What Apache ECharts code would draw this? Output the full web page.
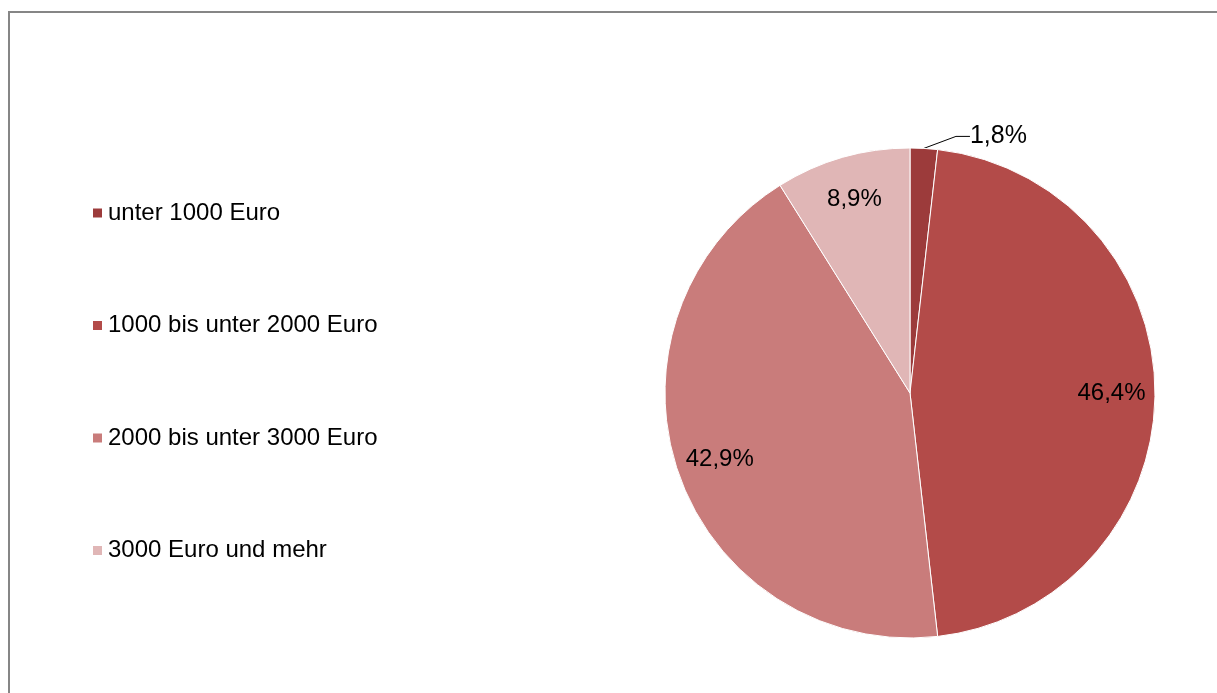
<!DOCTYPE html>
<html>
<head>
<meta charset="utf-8">
<script src="https://cdn.jsdelivr.net/npm/echarts@6/dist/echarts.min.js"></script>
<style>
  html, body { margin: 0; padding: 0; background: #fff; }
  #frame { position: absolute; left: 8px; top: 11px; right: 0; bottom: 0;
           border-left: 2px solid #868686; border-top: 2px solid #868686; }
  #main { position: absolute; left: 0; top: 0; width: 1217px; height: 693px; }
</style>
</head>
<body>
<div id="frame"></div>
<div id="main"></div>
<script>
// Einkommensklassen
var categories = ['unter 1000 Euro', '1000 bis unter 2000 Euro', '2000 bis unter 3000 Euro', '3000 Euro und mehr'];
var shares = [1.8, 46.4, 42.9, 8.9];
var colors = ['#9c3b3b', '#b34b49', '#c97c7b', '#e0b6b6'];

var chart = echarts.init(document.getElementById('main'));

var fmt = function (p) {
  return p.value.toFixed(1).replace('.', ',') + '%';
};

var pieData = categories.map(function (c, i) {
  var item = { name: c, value: shares[i], itemStyle: { color: colors[i] } };
  // nur das kleine Segment bekommt ein Label aussen
  if (i == 0) {
    item.label = { show: true };
    item.labelLine = { show: true };
  }
  return item;
});

var overlayData = categories.map(function (c, i) {
  return { name: c, value: shares[i], label: { show: i != 0 } };
});

var font = 'Arial, "Liberation Sans", sans-serif';

var option = {
  animation: false,
  legend: {
    orient: 'vertical',
    left: 86,
    top: 196,
    itemWidth: 11,
    itemHeight: 11,
    itemGap: 88.5,
    icon: 'rect',
    selectedMode: false,
    data: categories,
    textStyle: { fontFamily: font, fontSize: 24, color: '#000', padding: [0, 0, 0, 0] }
  },
  series: [{
    type: 'pie',
    center: [910, 393],
    radius: 245,
    startAngle: 90,
    clockwise: true,
    avoidLabelOverlap: false,
    silent: true,
    itemStyle: { borderColor: '#fff', borderWidth: 1 },
    label: {
      show: false,
      position: 'outside',
      formatter: fmt,
      fontFamily: font,
      fontSize: 25,
      color: '#000',
      distanceToLabelLine: 4
    },
    labelLine: {
      show: false,
      length: 2,
      length2: 14,
      lineStyle: { color: '#000', width: 1 }
    },
    // Label nach rechts oben schieben, Linie wird neu berechnet
    labelLayout: function (p) {
      var r = p.labelRect;
      return { x: r.x + 28, y: r.y - 10, align: 'left', verticalAlign: 'top' };
    },
    data: pieData
  }, {
    type: 'pie',
    center: [910, 393],
    radius: [152, 245],
    startAngle: 90,
    clockwise: true,
    silent: true,
    itemStyle: { color: 'rgba(0,0,0,0)' },
    label: {
      position: 'inside',
      formatter: fmt,
      fontFamily: font,
      fontSize: 24,
      color: '#000'
    },
    labelLine: { show: false },
    data: overlayData
  }]
};

chart.setOption(option);
</script>
</body>
</html>
